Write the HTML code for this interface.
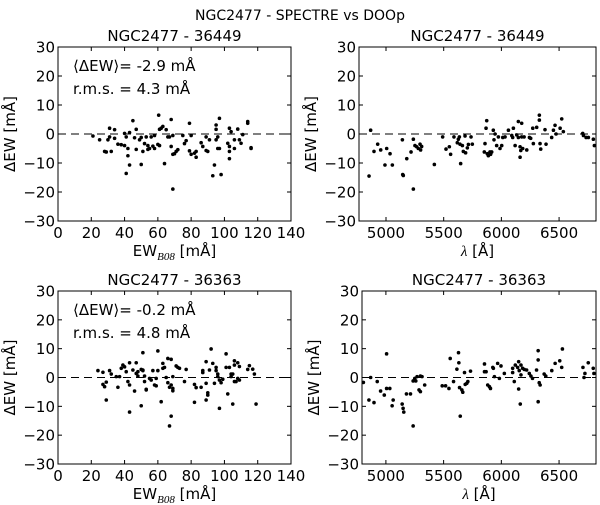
<!DOCTYPE html>
<html><head><meta charset="utf-8"><style>
html,body{margin:0;padding:0;background:#fff;}
svg{display:block;font-family:"DejaVu Sans","Liberation Sans",sans-serif;}
</style></head><body>
<svg id="fig" width="600" height="505" viewBox="0 0 600 505" xmlns="http://www.w3.org/2000/svg">
<text x="300" y="20" text-anchor="middle" font-size="14">NGC2477 - SPECTRE vs DOOp</text>
</svg>
<script>
// Data arrays
const tlX=[21,25,28,29,32,31,30,31,34,34,36,38,40,40,41,42,42,41,43,43,45,46,47,47,49,50,50,51,52,53,54,54,55,56,57,58,58,60.5,60,61,61,62,63,64,65,66,67,68,68,69,69,69,70,71,72,75,76,77,79,79,80,80,82,83,83,86,87,89,89,90,91,93,94,95,95,95,96,97,96,97,98,102,103,103,103,103,104,106,106,108,109,110,111,114,114,116,116];
const tlY=[-0.7,-2,-6,-6.2,-6,2,-2,-1,1.5,-1.5,-3.5,-3.7,-4,0.2,-1,-5,-7.5,-13.6,0.5,-10.7,4.6,-1.3,1.6,-5.3,-2,-1.2,-10.5,-6,-3.3,-1,-5.3,-4,-5,-1,-4.2,-5,-0.5,6.5,-3.6,-4,1.6,2,2.6,-10.2,1.5,-1,-1,5,-4.3,-0.5,-7,-19,-6.8,-6,-5.4,-0.5,-3.3,-2.3,3.7,-5.8,-7,-0.5,-6.6,-8,-6,-3,-4.3,-1,-5.7,-6,-2,-14.4,-10.7,-2,1.6,3.1,-1,5.4,-5,-5,-14,-3.2,-4.3,-6,-8.5,2,0.8,-2,-5,1.7,-2,-3.2,-0.2,4.3,3.7,-5,-4.7];
const trX=[4853,4867,4896,4928,4954,4991,5006,5035,5055,5142,5145,5150,5180,5217,5237,5237,5251,5266,5280,5295,5300,5309,5419,5491,5520,5549,5560,5589,5618,5627,5636,5641,5647,5662,5670,5685,5690,5705,5714,5737,5748,5852,5858,5867,5873,5878,5887,5901,5907,5916,5930,5936,5945,5959,5974,5988,6003,6012,6032,6061,6090,6104,6098,6119,6133,6147,6147,6162,6162,6168,6176,6176,6185,6197,6220,6243,6254,6272,6277,6306,6329,6329,6335,6341,6378,6387,6436,6451,6465,6474,6509,6523,6537,6705,6711,6734,6754,6797,6806];
const trY=[-14.5,1.3,-6,-3.5,-5.5,-10.7,-5,-6.8,-10.7,-2,-14,-14.3,-8.5,-6.2,-19,-1.8,-4,-4.4,-5,-3.5,-5.5,-4.3,-10.5,-1,-5.2,-4.4,-7,-1,-3,-1.8,-1,-3.5,-10.2,-4,-6,-0.7,-6.5,-4.8,-3.6,-1,-3.5,-6.2,-3.3,2,4.6,-6.8,-7.5,-6.2,-7,-6.2,1.3,-2,0,-4,-1,-5,-4,-1.2,-1,1.3,-0.5,2,-1.2,-4,-0.3,4.3,-1.2,-4.4,-8,-5.7,3.7,-1,-5,-1,-5.5,-1.2,-1.5,2,-3.3,2.3,6.5,4.8,-3.3,-5.2,1.5,-3.5,-1.2,1.3,3,0,2,5.2,0.8,0.2,-0.5,-1.2,-1.2,-1.8,-4];
const blX=[24,27,27,28,29,29,31,32,35,36,37,38,39,40,41,42,43,43,43,45,46,47,47,48,48,50,50,51,51,51,52,52,53,53,55,56,57,58,59,59,60,60,62,63,63,64,65,66,66,67,67,68,68,68,69,69,69,71,72,73,76,77,82,82,83,86,87,87,89,89,89,90,90,91,92,93,94,95,95,96,96,97,97,98,99,101,101,102,103,104,104,105,105,106,106,106,107,108,108,109,109,114,115,117,118,119];
const blY=[2.4,1.8,-2.4,-3.2,-1.6,-7.8,2.4,1.2,0.3,-3.4,0.3,3.2,4.3,3.7,2,-1.4,-2.6,-12,5.1,2.6,-4.7,1.4,5.1,0.5,2,-9.8,2.8,2.4,8.6,2.6,0.5,-1.4,-4.3,-4.1,-0.3,-0.9,2.4,-2.6,-0.3,-2.9,9.2,2.4,-8.4,3.2,4.9,3.5,0,-1.8,6.6,-16.8,-3.4,-13.4,6.3,-2.6,-3.8,-4.6,0.3,4,3.5,3.2,-1.4,2.8,-2.4,-8.6,-3.5,-3.4,1.7,2.4,5.5,-7.8,-2,-6.1,-5.3,2.6,9.9,4.9,-2,3.5,2.4,1.2,0.3,-0.9,-10.7,-1.8,-0.6,3.5,8.2,-5.7,3.5,1.2,0.3,-9.2,1.2,-1.4,5.8,4.3,-1.4,5.1,-0.3,3.8,-0.9,2.8,4.1,2.9,1.2,-9.2];
const brX=[4805,4853,4868,4897,4925,4954,4986,5006,5006,5034,5054,5063,5141,5149,5155,5178,5213,5236,5236,5250,5259,5270,5287,5299,5299,5313,5336,5488,5517,5546,5557,5586,5615,5629,5632,5638,5644,5658,5666,5681,5687,5701,5710,5733,5854,5854,5868,5882,5897,5906,5926,5931,5940,5968,5983,5997,6026,6098,6098,6112,6121,6141,6150,6150,6155,6164,6170,6170,6184,6199,6219,6242,6256,6270,6305,6319,6319,6319,6328,6336,6371,6385,6437,6466,6506,6523,6529,6707,6716,6724,6753,6796,6802];
const brY=[-1.7,-7.8,0,-8.7,-1.4,-4.7,-6.1,8.2,-3.8,-3.8,-9.8,-7.8,-9.2,-10.7,-12,-5.7,-5.7,-16.8,-1.2,-0.3,-1.2,0.3,-4.3,-4.9,0.5,0.3,-2.6,-2.9,-2.9,-3.8,6.6,-1.4,2.9,8.6,5.1,-3.5,-13.4,-4.3,-5.1,1.7,-2.4,-2,-1.4,2.2,4.7,2,2,-2.6,-3.2,-3.8,3.5,3.2,0.3,4.9,-0.3,4,1.4,3.2,1.7,-1.4,4.3,3.5,5.5,-4,2.4,-9.2,4.3,0.9,3.2,2.8,2.6,1.4,0.5,-0.3,2.6,9.3,6.1,-8.4,-1.8,-2.6,1.2,0.5,2.4,4.9,5.8,3.5,9.9,3.5,0,1.4,5.1,3.2,1.4];
const ewTicks=[0,20,40,60,80,100,120,140];
const lamTicks=[5000,5500,6000,6500];
const yTicks=[-30,-20,-10,0,10,20,30];

const NS="http://www.w3.org/2000/svg";
const svg=document.getElementById('fig');
function mk(tag,attrs,parent){const e=document.createElementNS(NS,tag);for(const k in attrs)e.setAttribute(k,attrs[k]);(parent||svg).appendChild(e);return e;}

function panel(o){
  const g=mk('g',{});
  
  
  const {L,R,T,B,x0,x1}=o;
  const sx=v=>L+(v-x0)/(x1-x0)*(R-L);
  const sy=v=>B-(v+30)/60*(B-T);
  const t=mk('text',{x:(L+R)/2,y:T-6,'text-anchor':'middle','font-size':15},g);t.textContent=o.title;
  
  
  const z=mk('line',{x1:L,x2:R,y1:sy(0),y2:sy(0),stroke:'#000','stroke-width':1,'stroke-dasharray':'8,5'},g);
  
  
  for(let i=0;i<o.xs.length;i++){
    const v=o.xs[i];if(v<x0||v>x1)continue;
    const c=mk('circle',{cx:sx(v),cy:sy(o.ys[i]),r:1.8,fill:'#000'},g);
    
    
  }
  for(const v of o.xt){
    const x=sx(v);
    mk('line',{x1:x,x2:x,y1:B,y2:B-4,stroke:'#000'},g);
    mk('line',{x1:x,x2:x,y1:T,y2:T+4,stroke:'#000'},g);
    const l=mk('text',{x:x,y:B+17,'text-anchor':'middle','font-size':15},g);l.textContent=String(v);
    
    
  }
  for(const v of yTicks){
    const y=sy(v);
    mk('line',{x1:L,x2:L+4,y1:y,y2:y,stroke:'#000'},g);
    mk('line',{x1:R,x2:R-4,y1:y,y2:y,stroke:'#000'},g);
    const l=mk('text',{x:L-3,y:y+5.5,'text-anchor':'end','font-size':15},g);l.textContent=String(v).replace('-','\u2212');
    
    
  }
  const f=mk('rect',{x:L,y:T,width:R-L,height:B-T,fill:'none',stroke:'#000','stroke-width':1},g);
  
  
  const yl=mk('text',{x:0,y:0,'text-anchor':'middle','font-size':15,transform:`translate(${L-43},${(T+B)/2}) rotate(-90)`},g);
  yl.textContent='\u0394EW [m\u00C5]';
  
  
  const xl=mk('text',{x:(L+R)/2,y:B+35,'text-anchor':'middle','font-size':15},g);
  if(o.ew){xl.innerHTML='EW<tspan font-size="11" font-style="italic" font-family="Liberation Serif,serif" dy="4">B08</tspan><tspan dy="-4"> [m\u00C5]</tspan>';}
  else{xl.innerHTML='<tspan font-style="italic" font-family="Liberation Serif,serif">\u03BB</tspan> [\u00C5]';}
  
  
  if(o.ann){
    const a1=mk('text',{x:L+15,y:T+24,'font-size':15},g);a1.textContent=o.ann[0];
    
    
    const a2=mk('text',{x:L+15,y:T+47,'font-size':15},g);a2.textContent=o.ann[1];
    
    
  }
}
panel({name:'panel-top-left',title:'NGC2477 - 36449',L:58,R:291,T:47,B:221,x0:0,x1:140,xs:tlX,ys:tlY,xt:ewTicks,ew:true,ann:['\u27E8\u0394EW\u27E9= -2.9 m\u00C5','r.m.s. = 4.3 m\u00C5']});
panel({name:'panel-top-right',title:'NGC2477 - 36449',L:359,R:596,T:47,B:221,x0:4766,x1:6820,xs:trX,ys:trY,xt:lamTicks,ew:false});
panel({name:'panel-bottom-left',title:'NGC2477 - 36363',L:58,R:291,T:291,B:464,x0:0,x1:140,xs:blX,ys:blY,xt:ewTicks,ew:true,ann:['\u27E8\u0394EW\u27E9= -0.2 m\u00C5','r.m.s. = 4.8 m\u00C5']});
panel({name:'panel-bottom-right',title:'NGC2477 - 36363',L:362,R:596,T:291,B:464,x0:4793,x1:6820,xs:brX,ys:brY,xt:lamTicks,ew:false});
</script>
</body></html>
